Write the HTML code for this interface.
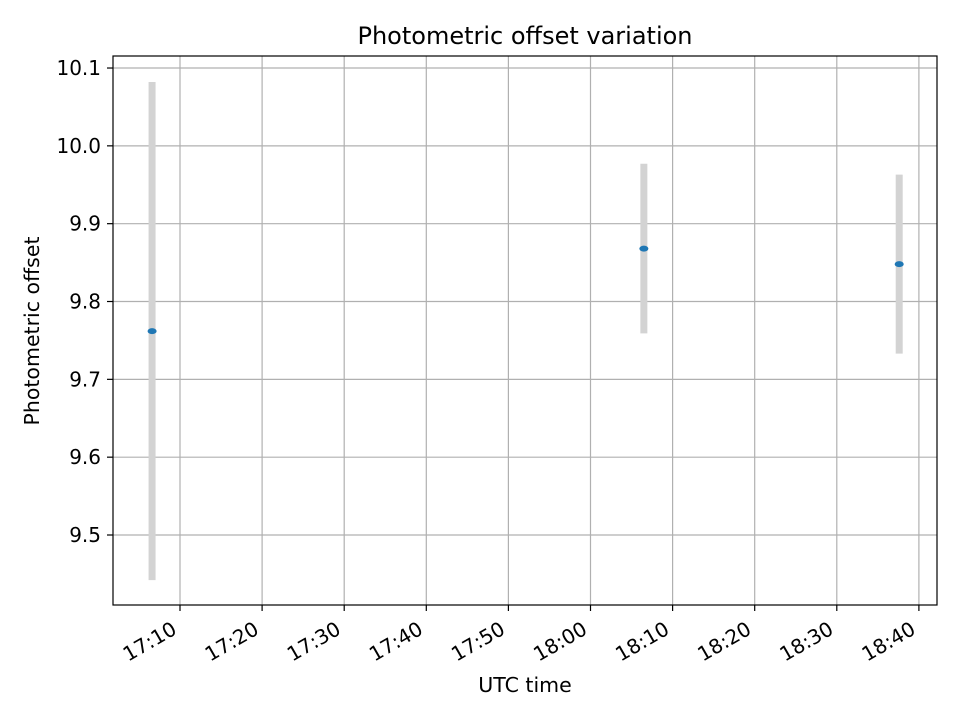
<!DOCTYPE html>
<html><head><meta charset="utf-8"><style>
body{margin:0;background:#fff;font-family:"DejaVu Sans","Liberation Sans",sans-serif}
text{font-family:"DejaVu Sans","Liberation Sans",sans-serif;fill:#000}
</style></head><body>
<svg id="chart" width="960" height="720" xmlns="http://www.w3.org/2000/svg">
<rect width="960" height="720" fill="#fff"/>
<g id="grid"></g>
<g id="bars"></g>
<g id="pts"></g>
<rect x="113" y="56" width="824" height="549" fill="none" stroke="#000" stroke-width="1.2"/>
<g id="ticks"></g>
<text x="525" y="44" font-size="24" text-anchor="middle">Photometric offset variation</text>
<text x="525" y="692" font-size="20.5" text-anchor="middle">UTC time</text>
<text transform="translate(39,331) rotate(-90)" font-size="20.5" text-anchor="middle">Photometric offset</text>
</svg>
<script>
const timesMin = [1026.6, 1086.5, 1117.6]; // minutes since midnight
const offsets = [9.762, 9.868, 9.848];
const errors = [0.320, 0.109, 0.115];
const yTicks = [9.5, 9.6, 9.7, 9.8, 9.9, 10.0, 10.1];
const yTickLabels = ["9.5","9.6","9.7","9.8","9.9","10.0","10.1"];
const xTicksMin = [1030,1040,1050,1060,1070,1080,1090,1100,1110,1120];
const xTickLabels = ["17:10","17:20","17:30","17:40","17:50","18:00","18:10","18:20","18:30","18:40"];
const NS="http://www.w3.org/2000/svg";
const X = m => 180 + (m-1030)*8.21;
const Y = v => 535 - (v-9.5)*778.3;
function mk(tag, attrs, parent){const e=document.createElementNS(NS,tag);for(const k in attrs)e.setAttribute(k,attrs[k]);document.getElementById(parent).appendChild(e);return e;}
yTicks.forEach((v,i)=>{
  const g=mk('line',{x1:113,x2:937,y1:Y(v),y2:Y(v),stroke:'#b0b0b0','stroke-width':1.2},'grid');
  
  
  const t=mk('line',{x1:107,x2:113,y1:Y(v),y2:Y(v),stroke:'#000','stroke-width':1.2},'ticks');
  
  
  const l=mk('text',{x:101,y:Y(v)+7,'font-size':20,'text-anchor':'end'},'ticks');
  l.textContent=yTickLabels[i];
  
  
});
xTicksMin.forEach((m,i)=>{
  const x=X(m);
  const g=mk('line',{x1:x,x2:x,y1:56,y2:605,stroke:'#b0b0b0','stroke-width':1.2},'grid');
  
  
  const t=mk('line',{x1:x,x2:x,y1:605,y2:611,stroke:'#000','stroke-width':1.2},'ticks');
  
  
  const l=mk('text',{transform:`translate(${x-2},${633}) rotate(-30)`,'font-size':20,'text-anchor':'end'},'ticks');
  l.textContent=xTickLabels[i];
  
  
});
timesMin.forEach((m,i)=>{
  const x=X(m);
  const b=mk('line',{x1:x,x2:x,y1:Y(offsets[i]+errors[i]),y2:Y(offsets[i]-errors[i]),stroke:'#d3d3d3','stroke-width':7},'bars');
  
  
  const p=mk('ellipse',{cx:x,cy:Y(offsets[i]),rx:4.5,ry:3,fill:'#1f77b4'},'pts');
  
  
});
</script>
</body></html>
